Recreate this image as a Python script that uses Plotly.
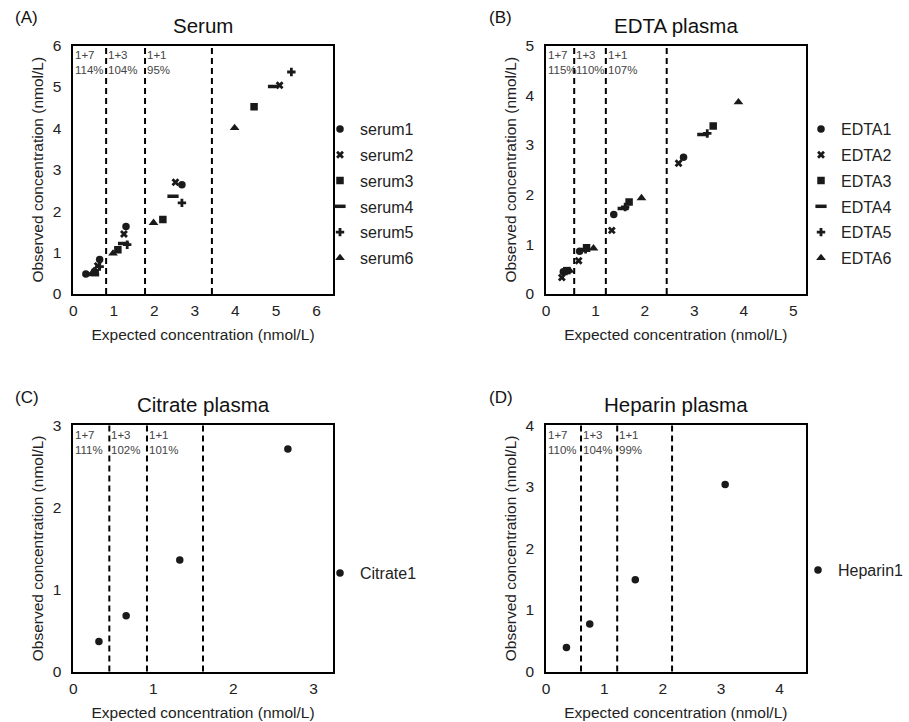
import plotly.graph_objects as go

FONT = "Arial, Liberation Sans, sans-serif"

# ---------------- data ----------------
serum_names = ["serum1", "serum2", "serum3", "serum4", "serum5", "serum6"]
serum_x = [
    [0.31, 0.65, 1.30, 2.68],
    [0.60, 1.25, 2.52, 5.09],
    [0.54, 1.10, 2.21, 4.46],
    [0.50, 1.24, 2.46, 4.94],
    [0.65, 1.33, 2.68, 5.38],
    [0.50, 0.98, 1.98, 3.98],
]
serum_y = [
    [0.48, 0.83, 1.63, 2.64],
    [0.68, 1.45, 2.70, 5.04],
    [0.52, 1.07, 1.80, 4.52],
    [0.47, 1.22, 2.36, 5.01],
    [0.66, 1.19, 2.20, 5.36],
    [0.55, 0.98, 1.72, 4.01],
]

edta_names = ["EDTA1", "EDTA2", "EDTA3", "EDTA4", "EDTA5", "EDTA6"]
edta_x = [
    [0.35, 0.68, 1.37, 2.78],
    [0.32, 0.66, 1.33, 2.68],
    [0.42, 0.82, 1.68, 3.38],
    [0.40, 0.78, 1.56, 3.17],
    [0.41, 0.80, 1.60, 3.26],
    [0.48, 0.96, 1.93, 3.89],
]
edta_y = [
    [0.45, 0.86, 1.60, 2.75],
    [0.33, 0.67, 1.28, 2.63],
    [0.47, 0.93, 1.85, 3.38],
    [0.45, 0.88, 1.72, 3.21],
    [0.46, 0.90, 1.75, 3.23],
    [0.47, 0.92, 1.93, 3.86],
]

citrate_names = ["Citrate1"]
citrate_x = [[0.32, 0.66, 1.33, 2.68]]
citrate_y = [[0.365, 0.68, 1.36, 2.71]]

heparin_names = ["Heparin1"]
heparin_x = [[0.35, 0.75, 1.53, 3.07]]
heparin_y = [[0.39, 0.77, 1.49, 3.04]]

panel_titles = ["Serum", "EDTA plasma", "Citrate plasma", "Heparin plasma"]
panel_letters = ["(A)", "(B)", "(C)", "(D)"]
dilution_labels = ["1+7", "1+3", "1+1"]
recoveries = [
    ["114%", "104%", "95%"],
    ["115%", "110%", "107%"],
    ["111%", "102%", "101%"],
    ["110%", "104%", "99%"],
]
boundaries = [
    [0.81, 1.77, 3.42],
    [0.57, 1.21, 2.44],
    [0.45, 0.92, 1.62],
    [0.60, 1.22, 2.16],
]
x_max = [6.4, 5.25, 3.24, 4.45]
y_max = [6, 5, 3, 4]
x_ticks = [[0, 1, 2, 3, 4, 5, 6], [0, 1, 2, 3, 4, 5], [0, 1, 2, 3], [0, 1, 2, 3, 4]]
y_ticks = [[0, 1, 2, 3, 4, 5, 6], [0, 1, 2, 3, 4, 5], [0, 1, 2, 3], [0, 1, 2, 3, 4]]

symbols = ["circle", "x", "square", "line-ew", "cross", "triangle-up"]
sizes = [7.5, 7, 7.5, 8, 7, 8.5]

# ---------------- layout geometry ----------------
W, H = 909, 722
x_dom = [(73.3 / W, 332.7 / W), (546 / W, 805.7 / W)]
y_dom = [(1 - 294 / H, 1 - 45.5 / H), (1 - 671.5 / H, 1 - 425.3 / H)]
legend_pos = [(320 / W, 1 - 112 / H), (801 / W, 1 - 112 / H),
              (320 / W, 1 - 556 / H), (798 / W, 1 - 553 / H)]

fig = go.Figure()

panels = [
    (serum_names, serum_x, serum_y),
    (edta_names, edta_x, edta_y),
    (citrate_names, citrate_x, citrate_y),
    (heparin_names, heparin_x, heparin_y),
]

annotations = []
shapes = []
for p, (names, xs, ys) in enumerate(panels):
    ax = "" if p == 0 else str(p + 1)
    leg = "legend" if p == 0 else "legend" + str(p + 1)
    for i, nm in enumerate(names):
        sym = symbols[i]
        marker = dict(symbol=sym, size=sizes[i], color="#1a1a1a")
        if sym == "line-ew":
            marker["line"] = dict(width=3.5, color="#1a1a1a")
        else:
            marker["line"] = dict(width=0)
        fig.add_trace(go.Scatter(
            x=xs[i], y=ys[i], mode="markers", name=nm, marker=marker,
            xaxis="x" + ax, yaxis="y" + ax, legend=leg,
            legendgroup=nm, showlegend=True,
        ))
    col = p % 2
    row = p // 2
    fig.layout["xaxis" + ax] = dict(
        domain=list(x_dom[col]), range=[0, x_max[p]], anchor="y" + ax,
        tickvals=x_ticks[p], ticks="", showgrid=False, zeroline=False,
        showline=True, linecolor="black", linewidth=1.6, mirror=True,
        tickfont=dict(size=15.5, color="#222", family=FONT), automargin=False,
        ticklabelstandoff=2,
        title=dict(text="Expected concentration (nmol/L)", standoff=11,
                   font=dict(size=15.5, color="#222", family=FONT)),
    )
    fig.layout["yaxis" + ax] = dict(
        domain=list(y_dom[row]), range=[0, y_max[p]], anchor="x" + ax,
        tickvals=y_ticks[p], ticks="", showgrid=False, zeroline=False,
        showline=True, linecolor="black", linewidth=1.6, mirror=True,
        tickfont=dict(size=15.5, color="#222", family=FONT), automargin=False,
        ticklabelstandoff=7,
        title=dict(text="Observed concentration (nmol/L)", standoff=5,
                   font=dict(size=15.5, color="#222", family=FONT)),
    )
    lx, ly = legend_pos[p]
    fig.layout[leg] = dict(
        x=lx, y=ly, xanchor="left", yanchor="top", bgcolor="rgba(0,0,0,0)",
        borderwidth=0, font=dict(size=16, color="#222", family=FONT),
        tracegroupgap=2, itemwidth=30,
    )
    # dashed boundaries
    for b in boundaries[p]:
        shapes.append(dict(type="line", xref="x" + ax, yref="y" + ax + " domain",
                           x0=b, x1=b, y0=0, y1=1,
                           line=dict(color="black", width=2, dash="6px,4px")))
    # region labels
    starts = [0] + boundaries[p][:2]
    for k in range(3):
        annotations.append(dict(
            xref="x" + ax, yref="y" + ax + " domain", x=starts[k], y=0.995,
            xanchor="left", yanchor="top", xshift=0, showarrow=False, align="left",
            text=dilution_labels[k] + "<br>" + recoveries[p][k],
            font=dict(size=11.5, color="#444", family=FONT),
        ))
    # title
    xc = (x_dom[col][0] + x_dom[col][1]) / 2
    annotations.append(dict(
        xref="paper", yref="paper", x=xc, y=y_dom[row][1], yshift=7,
        xanchor="center", yanchor="bottom", showarrow=False,
        text=panel_titles[p], font=dict(size=20.5, color="#111", family=FONT),
    ))
    # panel letter
    annotations.append(dict(
        xref="paper", yref="paper",
        x=(13 if col == 0 else 487) / W,
        y=1 - ((18 if row == 0 else 397)) / H,
        xanchor="left", yanchor="middle", showarrow=False,
        text=panel_letters[p], font=dict(size=17, color="#111", family=FONT),
    ))

fig.update_layout(
    width=W, height=H, margin=dict(l=0, r=0, t=0, b=0, autoexpand=False),
    paper_bgcolor="white", plot_bgcolor="white",
    shapes=shapes, annotations=annotations,
    font=dict(family=FONT),
)

fig.write_html("out.html", config={"displayModeBar": False},
               post_script="document.body.style.margin='0';")
